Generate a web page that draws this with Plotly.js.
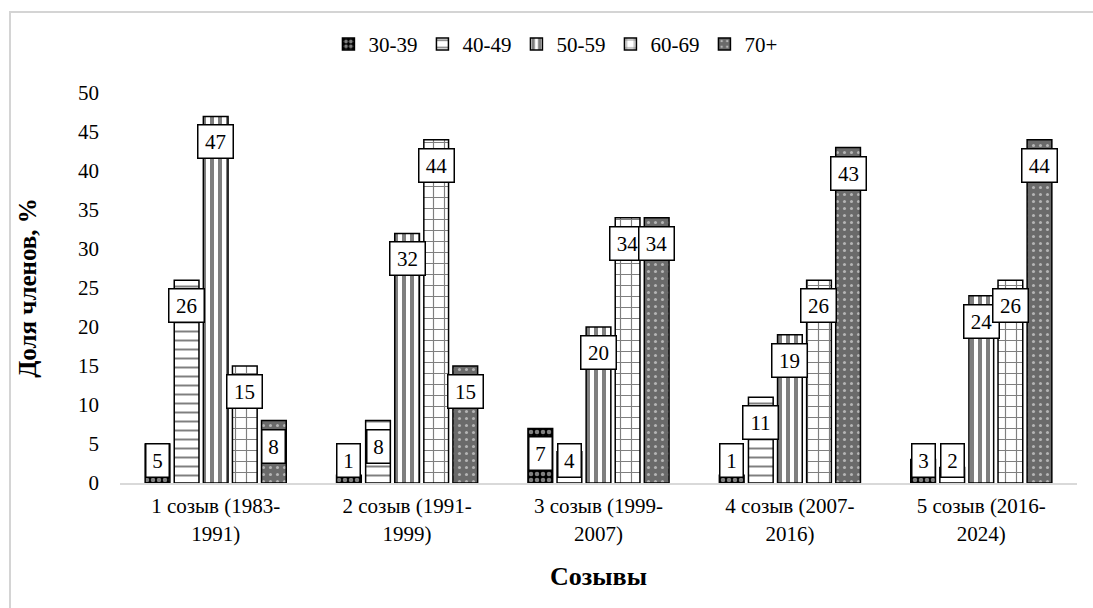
<!DOCTYPE html>
<html>
<head>
<meta charset="utf-8">
<script src="https://cdn.plot.ly/plotly-3.0.1.min.js"></script>
<style>
html,body{margin:0;padding:0;background:#fff;overflow:hidden;}
#chart{width:1093px;height:608px;position:relative;}
#frame{position:absolute;left:9px;top:11px;width:2000px;height:2000px;border-top:2px solid #d4d4d4;border-left:2px solid #d4d4d4;pointer-events:none;}
</style>
</head>
<body>
<div id="chart"></div>
<div id="frame"></div>
<script>
// ---- data ----
const categories = [
  "1 созыв (1983-<br>1991)",
  "2 созыв (1991-<br>1999)",
  "3 созыв (1999-<br>2007)",
  "4 созыв (2007-<br>2016)",
  "5 созыв (2016-<br>2024)"
];
const seriesNames = ["30-39", "40-49", "50-59", "60-69", "70+"];
const v30_39 = [5, 1, 7, 1, 3];
const v40_49 = [26, 8, 4, 11, 2];
const v50_59 = [47, 32, 20, 19, 24];
const v60_69 = [15, 44, 34, 26, 26];
const v70p   = [8, 15, 34, 43, 44];
const seriesValues = [v30_39, v40_49, v50_59, v60_69, v70p];

// ---- styles ----
const FONT = "'Liberation Serif', 'Times New Roman', Tinos, serif";
const patterns = [
  {color: "#000000", pattern: {shape: ".", fgcolor: "#ffffff", size: 6, solidity: 0.45, fillmode: "overlay"}},
  {color: "#ffffff", pattern: {shape: "-", fgcolor: "#000000", size: 9, solidity: 0.22, fillmode: "overlay"}},
  {color: "#ffffff", pattern: {shape: "|", fgcolor: "#000000", size: 8, solidity: 0.5, fillmode: "overlay"}},
  {color: "#ffffff", pattern: {shape: "+", fgcolor: "#000000", size: 11, solidity: 0.2, fillmode: "overlay"}},
  {color: "#6a6a6a", pattern: {shape: ".", fgcolor: "#ffffff", size: 7, solidity: 0.15, fillmode: "overlay"}}
];

const traces = seriesNames.map((name, i) => ({
  type: "bar",
  name: name,
  x: categories,
  y: seriesValues[i],
  marker: {
    color: patterns[i].color,
    pattern: patterns[i].pattern,
    line: {color: "#000000", width: 1.5}
  },
  hoverinfo: "x+y+name"
}));

// value label boxes
const bargap = 0.24;
const plotW = 1093 - 120 - 16;
const slotPx = plotW / categories.length * (1 - bargap) / seriesNames.length;
const pxPerUnit = 390 / 50;
const annotations = [];
seriesValues.forEach((vals, i) => {
  vals.forEach((v, j) => {
    const fitsBelowTop = v * pxPerUnit - 8 - 35 >= 6;
    annotations.push({
      x: categories[j],
      y: fitsBelowTop ? v : 0,
      xref: "x", yref: "y",
      xshift: (i - 2) * slotPx,
      yshift: fitsBelowTop ? -8 : 5,
      yanchor: fitsBelowTop ? "top" : "bottom",
      xanchor: "center",
      text: String(v),
      showarrow: false,
      width: v >= 10 ? 24 : 12,
      height: 22,
      font: {family: FONT, size: 21, color: "#000"},
      bgcolor: "#ffffff",
      bordercolor: "#000000",
      borderwidth: 1.5,
      borderpad: 5
    });
  });
});

const layout = {
  width: 1093,
  height: 608,
  margin: {l: 120, r: 16, t: 93, b: 125},
  paper_bgcolor: "#ffffff",
  plot_bgcolor: "#ffffff",
  font: {family: FONT, size: 20, color: "#000"},
  barmode: "group",
  bargap: bargap,
  bargroupgap: 0.15,
  showlegend: true,
  legend: {
    orientation: "h",
    x: 0.455, xanchor: "center",
    y: 1.125, yanchor: "middle",
    font: {family: FONT, size: 21, color: "#000"},
    itemwidth: 30,
    traceorder: "normal"
  },
  xaxis: {
    showgrid: false,
    showline: true,
    linecolor: "#d9d9d9",
    linewidth: 2,
    ticks: "",
    ticklabelstandoff: 3,
    tickfont: {family: FONT, size: 21, color: "#000"},
    title: {text: "Созывы", font: {family: FONT, size: 26, color: "#000", weight: "bold"}, standoff: 22},
    automargin: false
  },
  yaxis: {
    range: [0, 50],
    dtick: 5,
    showgrid: false,
    showline: false,
    zeroline: false,
    ticks: "",
    ticklabelstandoff: 20,
    tickfont: {family: FONT, size: 21, color: "#000"},
    title: {text: "Доля членов, %", font: {family: FONT, size: 25, color: "#000", weight: "bold"}, standoff: 34},
    automargin: false
  },
  annotations: annotations
};

Plotly.newPlot("chart", traces, layout, {displayModeBar: false, staticPlot: true});
</script>
</body>
</html>
